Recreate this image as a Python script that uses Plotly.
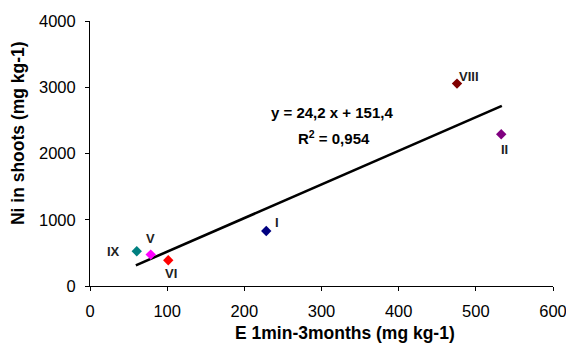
import numpy as np
import plotly.graph_objects as go

labels = ["IX", "V", "VI", "I", "VIII", "II"]
x_vals = [60.6, 78.7, 101.4, 228.4, 475.6, 532.9]
y_vals = [524, 474, 388, 830, 3055, 2290]
colors = ["#008080", "#FF00FF", "#FF0000", "#000080", "#800000", "#800080"]
x_ticks = [0, 100, 200, 300, 400, 500, 600]
y_ticks = [0, 1000, 2000, 3000, 4000]
equation = "y = 24,2 x + 151,4"
r2_text = "R<sup>2</sup> = 0,954"
x_title = "E 1min-3months (mg kg-1)"
y_title = "Ni in shoots (mg kg-1)"

# label offsets in pixels (style only)
label_shift = [(-23, 0), (0, 16), (3, -13), (11, 9), (12, 7), (3, -15)]

font = "Liberation Sans, Arial, sans-serif"

slope, intercept = np.polyfit(x_vals, y_vals, 1)
tx = [min(x_vals) - 1.2, max(x_vals) + 0.8]
ty = [slope * v + intercept for v in tx]

fig = go.Figure()
fig.add_trace(go.Scatter(x=tx, y=ty, mode="lines",
                         line=dict(color="black", width=2.6), showlegend=False,
                         hoverinfo="skip"))
fig.add_trace(go.Scatter(x=x_vals, y=y_vals, mode="markers",
                         marker=dict(symbol="diamond", size=8, color=colors),
                         showlegend=False))
for lab, xv, yv, (dx, dy) in zip(labels, x_vals, y_vals, label_shift):
    fig.add_annotation(x=xv, y=yv, text="<b>" + lab + "</b>", showarrow=False,
                       xshift=dx, yshift=dy,
                       font=dict(family=font, size=13, color="#222222"))

fig.add_annotation(x=314, y=2625, text="<b>" + equation + "</b>", showarrow=False,
                   font=dict(family=font, size=15, color="black"))
fig.add_annotation(x=316.5, y=2235, text="<b>" + r2_text + "</b>", showarrow=False,
                   font=dict(family=font, size=15, color="black"))

# axis titles
fig.add_annotation(x=330, y=-0.177, xref="x", yref="paper", yanchor="middle",
                   text="<b>" + x_title + "</b>", showarrow=False,
                   font=dict(family=font, size=17.5, color="black"))
fig.add_annotation(x=-0.1555, y=0.577, xref="paper", yref="paper", textangle=-90,
                   xanchor="center", yanchor="middle",
                   text="<b>" + y_title + "</b>", showarrow=False,
                   font=dict(family=font, size=17.5, color="black"))

# page body has an 8px margin, so the figure is sized to fit the window
fig.update_layout(
    width=566, height=339,
    margin=dict(l=82, r=21, t=13, b=61),
    paper_bgcolor="white", plot_bgcolor="white",
    font=dict(family=font, size=16.5, color="black"),
)
fig.update_xaxes(range=[0, 600], tickvals=x_ticks, showgrid=False, zeroline=False,
                 showline=True, linecolor="black", linewidth=1, automargin=False,
                 ticks="outside", ticklen=4, tickcolor="black", ticklabelstandoff=6)
fig.update_yaxes(range=[0, 4000], tickvals=y_ticks, showgrid=False, zeroline=False,
                 showline=True, linecolor="black", linewidth=1, automargin=False,
                 ticks="outside", ticklen=4, tickcolor="black", ticklabelstandoff=6)

fig.write_html("out.html")
